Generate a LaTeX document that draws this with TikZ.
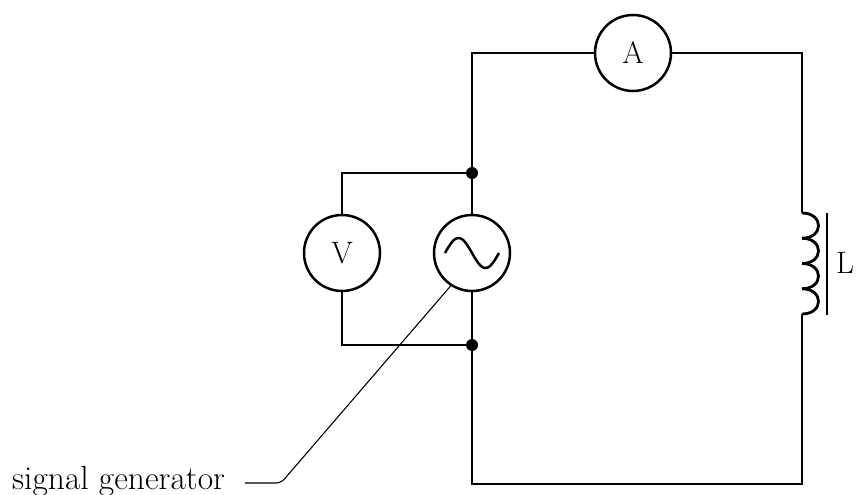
\documentclass[tikz,border=0pt]{standalone}
\begin{document}
\begin{tikzpicture}[x=1pt,y=-1pt,
  wire/.style={line width=2.8pt},
  meter/.style={circle, draw, line width=2.5pt, minimum size=76pt, inner sep=0pt, font=\fontsize{31}{36}\selectfont},
  junction/.style={circle, fill, inner sep=0pt, minimum size=12pt},
  lbl/.style={font=\fontsize{31}{36}\selectfont, inner sep=0pt},
  leader/.style={line width=1.1pt, rounded corners=5pt}]
\useasboundingbox (0,0) rectangle (857,495);
\node[meter] (A) at (633,53) {A};
\node[meter] (V) at (342,253) {V};
\node[meter] (G) at (472,253) {};
\coordinate (tl) at (472,53);
\coordinate (tr) at (802,53);
\coordinate (br) at (802,484);
\coordinate (bl) at (472,484);
\coordinate (vt) at (342,173);
\coordinate (vb) at (342,345);
\coordinate (c1) at (802,213);
\coordinate (c2) at (802,314);
\node[junction] (J1) at (472,173) {};
\node[junction] (J2) at (472,345) {};
\draw[wire] (A.west) -- (tl) -- (J1.center) -- (G.north);
\draw[wire] (A.east) -- (tr) -- (c1);
\draw[wire] (c2) -- (br) -- (bl) -- (J2.center) -- (G.south);
\draw[wire] (J1.center) -- (vt) -- (V.north);
\draw[wire] (J2.center) -- (vb) -- (V.south);
\foreach \i in {0,1,2,3} {
  \draw[wire] (802,{213+25.25*\i}) .. controls (824,{213+25.25*\i}) and (824,{213+25.25*(\i+1)}) .. (802,{213+25.25*(\i+1)});
}
\draw[wire] (827,213) -- (827,315);
\node[lbl, anchor=west] (L) at (836,263) {L};
\draw[line width=2.5pt] plot[domain=0:360, samples=72, smooth] ({472+27*(\x/180-1)}, {253-15*sin(\x)});
\node[lbl, anchor=base west, font=\fontsize{33.5}{38}\selectfont] (sg) at (12,489) {signal generator};
\coordinate (ls) at (245,483);
\draw[leader] (ls) -- (281,483) -- (G.237);
\end{tikzpicture}
\end{document}
